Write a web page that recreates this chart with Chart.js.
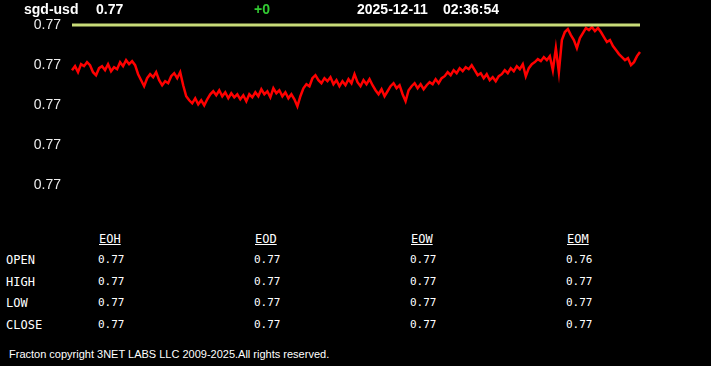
<!DOCTYPE html>
<html>
<head>
<meta charset="utf-8">
<script src="https://cdn.jsdelivr.net/npm/chart.js@4.4.1/dist/chart.umd.min.js"></script>
<style>
  body { margin:0; background:#000; width:711px; height:366px; overflow:hidden; position:relative; font-family:"Liberation Sans", Arial, sans-serif; }
  #wrap { position:absolute; left:0; top:0; width:711px; height:205px; }
  .hd { position:absolute; top:0px; font-weight:bold; font-size:14px; color:#fff; line-height:18px; }
  .tb { position:absolute; font-family:"DejaVu Sans Mono", monospace; color:#fff; }
  #foot { position:absolute; left:9px; top:348px; font-size:11px; color:#fff; }
</style>
</head>
<body>
<div id="wrap"><canvas id="c"></canvas></div>
<div class="hd" style="left:24px">sgd-usd</div>
<div class="hd" style="left:96px" id="last"></div>
<div class="hd" style="left:254px;color:#3c3" id="chg"></div>
<div class="hd" style="left:357px">2025-12-11</div>
<div class="hd" style="left:443px">02:36:54</div>
<div id="tbl"></div>
<div id="foot">Fracton copyright 3NET LABS LLC 2009-2025.All rights reserved.</div>
<script>
// price series
var closes = [
0.77155,0.77159,0.77153,0.77161,0.77159,0.77163,0.77160,
0.77153,0.77150,0.77157,
0.77159,0.77155,0.77161,0.77154,0.77158,0.77156,
0.77163,0.77159,0.77165,0.77161,0.77164,0.77160,
0.77151,0.77145,0.77139,0.77147,
0.77151,0.77148,0.77153,
0.77145,0.77140,0.77144,0.77142,
0.77149,0.77152,0.77147,0.77153,
0.77140,0.77129,0.77125,
0.77122,0.77127,0.77121,0.77125,0.77120,0.77126,
0.77131,0.77134,0.77130,0.77135,
0.77129,0.77133,0.77127,0.77132,0.77128,0.77131,0.77126,
0.77130,0.77124,0.77131,
0.77128,0.77133,0.77129,0.77136,0.77131,0.77134,0.77128,0.77137,0.77132,0.77135,0.77129,0.77133,0.77127,0.77131,0.77126,0.77119,
0.77129,0.77137,0.77141,0.77139,
0.77147,0.77150,0.77145,
0.77142,0.77147,0.77144,0.77148,
0.77141,0.77145,0.77139,0.77144,0.77140,0.77146,0.77142,0.77151,0.77143,
0.77139,0.77145,0.77141,0.77146,0.77140,
0.77135,0.77131,0.77136,0.77129,0.77134,
0.77139,0.77142,0.77137,0.77140,
0.77131,0.77124,0.77135,
0.77139,0.77142,0.77137,0.77141,0.77136,0.77140,0.77143,
0.77141,0.77146,0.77142,0.77147,
0.77149,0.77153,0.77150,0.77155,0.77152,0.77157,0.77154,0.77158,0.77156,0.77160,
0.77155,0.77150,0.77152,0.77147,0.77151,0.77145,0.77148,0.77144,0.77149,
0.77151,0.77155,0.77152,0.77157,0.77154,0.77159,0.77156,0.77161,
0.77149,
0.77157,0.77161,0.77163,0.77166,0.77164,0.77168,0.77165,0.77169,
0.77155,0.77177,0.77153,
0.77185,0.77193,0.77196,0.77190,0.77185,
0.77177,
0.77187,0.77192,0.77197,0.77195,0.77198,0.77194,0.77197,0.77193,
0.77188,0.77183,0.77185,0.77179,0.77175,
0.77171,0.77168,0.77165,0.77167,0.77160,0.77163,
0.77169,0.77173
];
var refLevel = 0.7720;
var yTicks = [0.7720, 0.7716, 0.7712, 0.7708, 0.7704];
var lastPrice = 0.77;
var change = 0;

var rowNames = ['OPEN','HIGH','LOW','CLOSE'];
var colNames = ['EOH','EOD','EOW','EOM'];
var eoh = [0.77,0.77,0.77,0.77];
var eod = [0.77,0.77,0.77,0.77];
var eow = [0.77,0.77,0.77,0.77];
var eom = [0.76,0.77,0.77,0.77];

document.getElementById('last').textContent = lastPrice.toFixed(2);
document.getElementById('chg').textContent = '+' + change;

var labels = closes.map(function(v, i){ return i; });

var ctx = document.getElementById('c').getContext('2d');
var chart = new Chart(ctx, {
  type: 'line',
  data: {
    labels: labels,
    datasets: [{
      data: [{x: 0, y: refLevel}, {x: labels.length - 1, y: refLevel}],
      borderColor: 'rgb(200,220,120)',
      borderWidth: 3,
      pointRadius: 0,
      clip: false
    },{
      data: closes,
      borderColor: '#ff0000',
      borderWidth: 2.5,
      pointRadius: 0,
      tension: 0,
      clip: false
    }]
  },
  options: {
    responsive: true,
    maintainAspectRatio: false,
    animation: false,
    layout: { padding: { top: 25, bottom: 8, left: 0, right: 71 } },
    plugins: { legend: { display: false }, tooltip: { enabled: false } },
    scales: {
      x: { type: 'linear', min: 0, max: labels.length - 1, display: false },
      y: {
        min: 0.7704, max: 0.7720,
        afterBuildTicks: function(s){ s.ticks = yTicks.map(function(v){ return {value: v}; }); },
        afterFit: function(s){ s.width = 72; },
        grid: { display: false, drawTicks: false, tickLength: 0 },
        border: { display: false },
        ticks: {
          color: '#eee',
          padding: 11,
          font: { family: 'Liberation Sans', size: 14 },
          callback: function(v){ return v.toFixed(2); }
        }
      }
    }
  }
});

// OHLC table under the chart
var cols = [eoh, eod, eow, eom];
var tbl = document.getElementById('tbl');
function put(txt, x, y, size, extra){
  var d = document.createElement('div');
  d.className = 'tb';
  d.style.left = x + 'px'; d.style.top = y + 'px'; d.style.fontSize = size + 'px';
  if (extra) d.style.textDecoration = extra;
  d.textContent = txt;
  tbl.appendChild(d);
}
for (var c = 0; c < colNames.length; c++){
  put(colNames[c], 99 + c*156, 232, 12, 'underline');
}
for (var r = 0; r < rowNames.length; r++){
  put(rowNames[r], 6, 253 + r*21.7, 12);
  for (var c = 0; c < cols.length; c++){
    put(cols[c][r].toFixed(2), 98 + c*156, 253 + r*21.7, 11);
  }
}
</script>
</body>
</html>
